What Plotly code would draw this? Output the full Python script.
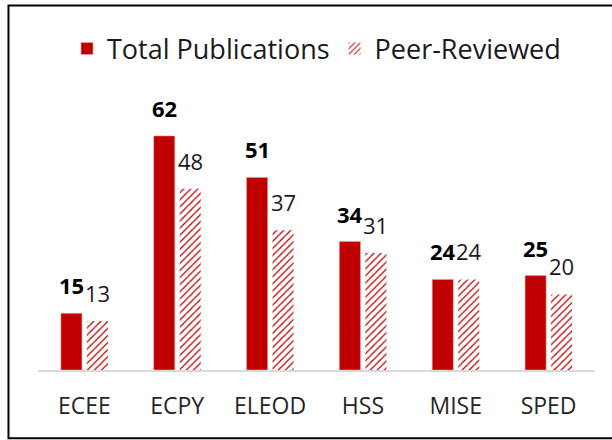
import plotly.graph_objects as go

categories = ["ECEE", "ECPY", "ELEOD", "HSS", "MISE", "SPED"]
total_pubs = [15, 62, 51, 34, 24, 25]
peer_reviewed = [13, 48, 37, 31, 24, 20]
series_names = ["Total Publications", "Peer-Reviewed"]

RED = "#C00000"
FONT = "Open Sans"

fig = go.Figure()
fig.add_trace(go.Bar(
    x=categories, y=total_pubs, name=series_names[0],
    marker=dict(color=RED, line=dict(color="#E8A0A0", width=0.6)),
))
fig.add_trace(go.Bar(
    x=categories, y=peer_reviewed, name=series_names[1],
    marker=dict(color="white", line=dict(width=0),
                pattern=dict(shape="/", fgcolor=RED, bgcolor="white",
                             size=5, solidity=0.25, fillmode="replace")),
))

# data labels
for c, v in zip(categories, total_pubs):
    fig.add_annotation(x=c, y=v, text=f"<b>{v}</b>", showarrow=False,
                       xshift=-13, yshift=11, yanchor="bottom",
                       font=dict(family=FONT, size=22, color="#000000"))
for c, v in zip(categories, peer_reviewed):
    fig.add_annotation(x=c, y=v, text=f"{v}", showarrow=False,
                       xshift=13, yshift=11, yanchor="bottom",
                       font=dict(family=FONT, size=22, color="#1a1a1a"))

# outer chart border
fig.add_shape(type="rect", xref="paper", yref="paper",
              x0=-0.053, x1=1.12, y0=-0.235, y1=1.257,
              line=dict(color="black", width=2), fillcolor="rgba(0,0,0,0)",
              layer="above")

fig.update_layout(
    width=612, height=440,
    margin=dict(l=38, r=17, t=80, b=70),
    paper_bgcolor="white", plot_bgcolor="white",
    barmode="group", bargap=0.44, bargroupgap=0.19,
    font=dict(family=FONT, color="#262626"),
    showlegend=True,
    legend=dict(orientation="h", x=0.5, xanchor="center", y=1.107, yanchor="middle",
                font=dict(family=FONT, size=27, color="#1a1a1a"),
                itemwidth=30, traceorder="normal"),
    xaxis=dict(showline=True, linecolor="#D9D9D9", linewidth=2, ticks="",
               tickfont=dict(family=FONT, size=23, color="#262626"),
               ticklabelstandoff=14, showgrid=False),
    yaxis=dict(range=[0, 76.8], visible=False, showgrid=False, zeroline=False),
)

fig.write_html("out.html", config={"displayModeBar": False},
               post_script="document.body.style.margin='0';document.body.style.overflow='hidden';")
